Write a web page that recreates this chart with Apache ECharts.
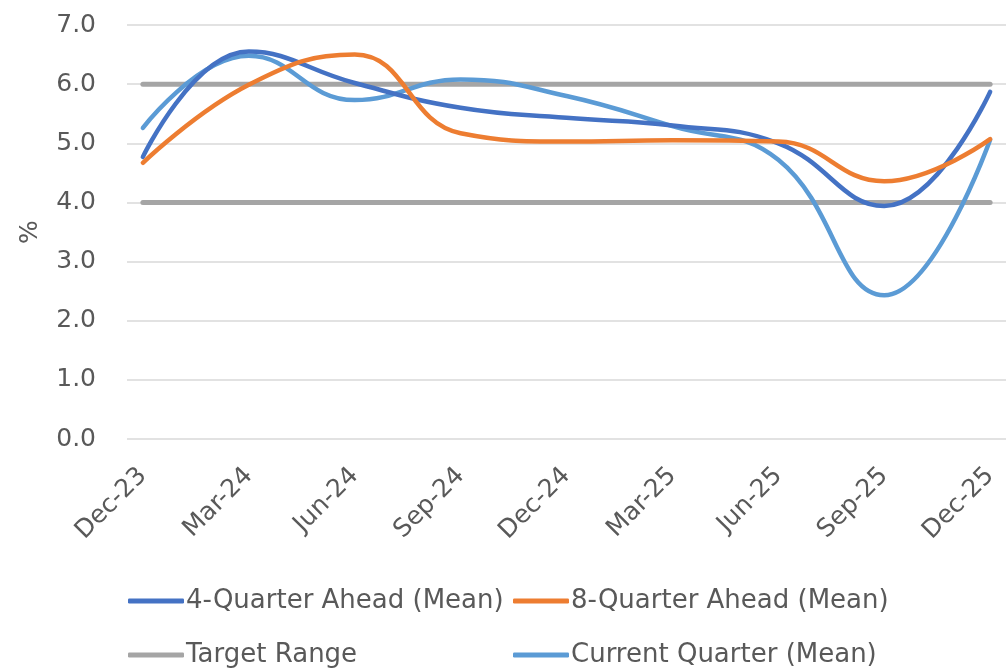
<!DOCTYPE html>
<html>
<head>
<meta charset="utf-8">
<script src="https://cdn.jsdelivr.net/npm/echarts@6/dist/echarts.min.js"></script>
<style>
  html, body { margin: 0; padding: 0; background: #ffffff; }
  #main { width: 1006px; height: 669px; }
</style>
</head>
<body>
<div id="main"></div>
<script>
// quarters on the x axis
var quarters = ["Dec-23", "Mar-24", "Jun-24", "Sep-24", "Dec-24", "Mar-25", "Jun-25", "Sep-25", "Dec-25"];
// survey means, %
var ahead4 = [4.77, 6.55, 6.02, 5.6, 5.43, 5.3, 5.0, 3.94, 5.87];
var ahead8 = [4.67, 5.99, 6.5, 5.17, 5.03, 5.05, 5.03, 4.36, 5.07];
var current = [5.26, 6.48, 5.73, 6.08, 5.8, 5.29, 4.72, 2.43, 5.06];
// target band
var targetLow = [4, 4, 4, 4, 4, 4, 4, 4, 4];
var targetHigh = [6, 6, 6, 6, 6, 6, 6, 6, 6];
var yTicks = [0, 1, 2, 3, 4, 5, 6, 7];

function pairs(arr) {
  return arr.map(function (v, i) { return [i, v]; });
}

var font = "DejaVu Sans";
var grey = "#595959";

var myChart = echarts.init(document.getElementById("main"));

function lineSeries(name, data, color, width) {
  return {
    name: name,
    type: "line",
    data: pairs(data),
    smooth: 0.45,
    showSymbol: false,
    symbol: "none",
    lineStyle: { color: color, width: width, cap: "round", join: "round" },
    itemStyle: { color: color }
  };
}

var legendBase = {
  orient: "vertical",
  top: 588,
  padding: 0,
  itemWidth: 56,
  itemHeight: 5,
  itemGap: 28,
  icon: "roundRect",
  textStyle: { color: grey, fontFamily: font, fontSize: 26, padding: [0, 0, 0, -3] }
};

myChart.setOption({
  animation: false,
  grid: { left: 127, right: 0, top: 25, bottom: 230 },
  xAxis: {
    type: "value",
    min: -0.15,
    max: quarters.length - 1 + 0.15,
    interval: 1,
    axisLine: { show: false },
    axisTick: { show: false },
    splitLine: { show: false },
    axisLabel: {
      rotate: 45,
      margin: 33,
      color: grey,
      fontFamily: font,
      fontSize: 25,
      customValues: quarters.map(function (q, i) { return i; }),
      formatter: function (v) { return quarters[Math.round(v)] || ""; }
    }
  },
  yAxis: {
    type: "value",
    min: yTicks[0],
    max: yTicks[yTicks.length - 1],
    interval: 1,
    name: "%",
    nameLocation: "middle",
    nameGap: 84,
    nameRotate: 90,
    nameTextStyle: { color: grey, fontFamily: font, fontSize: 25 },
    axisLine: { show: false },
    axisTick: { show: false },
    axisLabel: {
      margin: 31,
      color: grey,
      fontFamily: font,
      fontSize: 25,
      formatter: function (v) { return v.toFixed(1); }
    },
    splitLine: { lineStyle: { color: "#d9d9d9", width: 1.5 } }
  },
  legend: [
    Object.assign({}, legendBase, { left: 128, data: ["4-Quarter Ahead (Mean)", "Target Range"] }),
    Object.assign({}, legendBase, { left: 513, data: ["8-Quarter Ahead (Mean)", "Current Quarter (Mean)"] })
  ],
  series: [
    lineSeries("Target Range", targetHigh, "#a5a5a5", 5),
    lineSeries("Target Range", targetLow, "#a5a5a5", 5),
    lineSeries("Current Quarter (Mean)", current, "#5b9bd5", 4.5),
    lineSeries("4-Quarter Ahead (Mean)", ahead4, "#4472c4", 4.5),
    lineSeries("8-Quarter Ahead (Mean)", ahead8, "#ed7d31", 4.5)
  ]
});
</script>
</body>
</html>
